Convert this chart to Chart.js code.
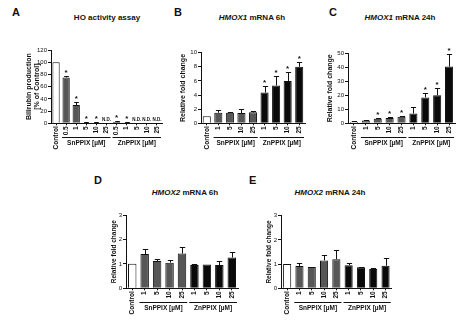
<!DOCTYPE html>
<html>
<head>
<meta charset="utf-8">
<script src="https://cdn.jsdelivr.net/npm/chart.js@4.4.1/dist/chart.umd.min.js"></script>
<style>
html, body { margin: 0; padding: 0; background: #fff; }
#fig { position: relative; width: 468px; height: 321px; overflow: hidden; font-family: "Liberation Sans", Arial, sans-serif; color: #111; }
#fig canvas { position: absolute; left: 0; top: 0; }
.lbl { position: absolute; font-weight: bold; font-size: 11px; line-height: 12px; }
.ttl { position: absolute; font-weight: bold; font-size: 8px; line-height: 10px; white-space: nowrap; transform: translateX(-50%); }
</style>
</head>
<body>
<div id="fig">
  <div class="lbl" style="left:12px;top:6px">A</div>
  <div class="ttl" style="left:107px;top:13px">HO activity assay</div>
  <div class="lbl" style="left:174px;top:6px">B</div>
  <div class="ttl" style="left:252px;top:13px"><i>HMOX1</i> mRNA 6h</div>
  <div class="lbl" style="left:329px;top:6px">C</div>
  <div class="ttl" style="left:400px;top:13px"><i>HMOX1</i> mRNA 24h</div>
  <div class="lbl" style="left:94px;top:174px">D</div>
  <div class="ttl" style="left:185px;top:188px"><i>HMOX2</i> mRNA 6h</div>
  <div class="lbl" style="left:249px;top:174px">E</div>
  <div class="ttl" style="left:330px;top:188px"><i>HMOX2</i> mRNA 24h</div>
  <canvas id="cA" width="468" height="321"></canvas>
  <canvas id="cB" width="468" height="321"></canvas>
  <canvas id="cC" width="468" height="321"></canvas>
  <canvas id="cD" width="468" height="321"></canvas>
  <canvas id="cE" width="468" height="321"></canvas>
</div>
<script>
// HO activity (bilirubin, % of control)
var aLabels = ['Control', '0.5', '1', '5', '10', '25', '0.5', '1', '5', '10', '25'];
var aValues = [100, 75, 30, 1, 1, 0, 2, 1.5, 0, 0, 0];
var aErrors = [0, 2, 5, 0.5, 0.5, 0, 2.5, 1, 0, 0, 0];
var aMarks = ['', '*', '*', '*', '*', 'N.D.', '*', '*', 'N.D.', 'N.D.', 'N.D.'];
var aGroups = [[1, 5], [6, 10]];

// HMOX1 / HMOX2 mRNA, relative fold change
var mLabels = ['Control', '1', '5', '10', '25', '1', '5', '10', '25'];
var mGroups = [[1, 4], [5, 8]];

var bValues = [1, 1.5, 1.5, 1.45, 1.55, 4.35, 5.35, 6.0, 8.0];
var bErrors = [0, 0.45, 0.1, 0.55, 0.2, 0.9, 1.3, 1.3, 0.7];
var bMarks = ['', '', '', '', '', '*', '*', '*', '*'];

var cValues = [1, 2, 3.3, 3.8, 4.7, 7, 18.5, 20, 40.5];
var cErrors = [0.3, 0.3, 0.6, 0.9, 0.7, 4.5, 2.8, 5, 9];
var cMarks = ['', '', '*', '*', '*', '', '*', '*', '*'];

var dValues = [1, 1.4, 1.12, 1.05, 1.42, 0.95, 0.97, 0.95, 1.26];
var dErrors = [0, 0.2, 0.07, 0.1, 0.27, 0.05, 0, 0.15, 0.22];

var eValues = [1, 0.92, 0.88, 1.15, 1.2, 0.95, 0.87, 0.8, 0.93];
var eErrors = [0, 0.12, 0.02, 0.22, 0.38, 0.1, 0.02, 0.05, 0.32];

var groupNames = ['SnPPIX [µM]', 'ZnPPIX [µM]'];

var FONT = '"Liberation Sans", Arial, sans-serif';
var X_HEIGHT = 32;
Chart.defaults.font.family = FONT;

// error bars, asterisks / N.D. and the dose brackets under the x axis
var panelMarks = {
  id: 'panelMarks',
  afterDatasetsDraw: function (chart, args, opts) {
    var ctx = chart.ctx, xs = chart.scales.x, ys = chart.scales.y;
    var vals = chart.data.datasets[0].data;
    ctx.save();
    chart.getDatasetMeta(0).data.forEach(function (bar, i) {
      var v = vals[i], e = opts.errors[i], x = Math.round(bar.x) + 0.5;
      var top = ys.getPixelForValue(v + e);
      if (e > 0) {
        var cap = bar.width * 0.32;
        ctx.strokeStyle = '#111';
        ctx.lineWidth = 1;
        ctx.beginPath();
        ctx.moveTo(x, ys.getPixelForValue(v));
        ctx.lineTo(x, Math.round(top) + 0.5);
        ctx.moveTo(x - cap, Math.round(top) + 0.5);
        ctx.lineTo(x + cap, Math.round(top) + 0.5);
        ctx.stroke();
      }
      var m = opts.marks ? opts.marks[i] : '';
      ctx.fillStyle = '#111';
      ctx.textAlign = 'center';
      if (m === '*') {
        ctx.font = 'bold 8px ' + FONT;
        ctx.textBaseline = 'alphabetic';
        ctx.fillText('*', bar.x, top - 1);
      } else if (m === 'N.D.') {
        ctx.font = 'bold 4.5px ' + FONT;
        ctx.textBaseline = 'middle';
        ctx.fillText(m, bar.x, ys.bottom - 4);
      }
    });
    var slot = (xs.right - xs.left) / chart.data.labels.length;
    var y = Math.round(ys.bottom + 14) + 0.5;
    opts.groups.forEach(function (g, k) {
      var x0 = xs.getPixelForValue(g[0]) - slot / 2 + 1;
      var x1 = xs.getPixelForValue(g[1]) + slot / 2 - 1;
      ctx.strokeStyle = '#111';
      ctx.lineWidth = 1;
      ctx.beginPath();
      ctx.moveTo(x0, y);
      ctx.lineTo(x1, y);
      ctx.stroke();
      ctx.font = 'bold 6.5px ' + FONT;
      ctx.textAlign = 'center';
      ctx.textBaseline = 'middle';
      ctx.fillText(groupNames[k], (x0 + x1) / 2, y + 6);
    });
    ctx.restore();
  }
};

function drawPanel(id, labels, values, errors, marks, groups, yMax, yStep, yTitle, box) {
  var lh = box.titleSize * 1.15;
  var padLeft = box.titleX - lh / 2;
  var colors = labels.map(function (l, i) {
    if (i === 0) return '#ffffff';
    return i <= groups[0][1] ? '#575757' : '#0a0a0a';
  });
  new Chart(document.getElementById(id), {
    type: 'bar',
    data: {
      labels: labels,
      datasets: [{
        data: values,
        backgroundColor: colors,
        borderColor: '#111',
        borderWidth: 1,
        barPercentage: box.barPct,
        categoryPercentage: 1
      }]
    },
    options: {
      responsive: false,
      animation: false,
      devicePixelRatio: 1,
      layout: { padding: { left: padLeft, top: box.top, right: 468 - box.right, bottom: 321 - box.bottom - X_HEIGHT } },
      plugins: {
        legend: { display: false },
        tooltip: { enabled: false },
        panelMarks: { errors: errors, marks: marks, groups: groups }
      },
      scales: {
        x: {
          offset: true,
          grid: { drawOnChartArea: false, offset: false, tickLength: 2, color: '#111' },
          border: { color: '#111', width: 1 },
          ticks: {
            autoSkip: false, maxRotation: 90, minRotation: 90, padding: 1, color: '#111',
            font: { size: 6.5, weight: 'bold' }
          },
          afterFit: function (s) { s.height = X_HEIGHT; }
        },
        y: {
          min: 0,
          max: yMax,
          grid: { drawOnChartArea: false, tickLength: 3, color: '#111' },
          border: { color: '#111', width: 1 },
          ticks: { stepSize: yStep, padding: 1, color: '#111', font: { size: 6 } },
          title: {
            display: true, text: yTitle, color: '#111', padding: 0,
            font: { size: box.titleSize, weight: 'bold', lineHeight: 1.15 }
          },
          afterFit: function (s) { s.width = box.axisX - padLeft; }
        }
      }
    },
    plugins: [panelMarks]
  });
}

drawPanel('cA', aLabels, aValues, aErrors, aMarks, aGroups, 120, 20,
  ['Bilirubin production', '[% of Control]'],
  { titleX: 29, titleSize: 7, axisX: 51, right: 162, top: 50, bottom: 123.3, barPct: 0.72 });
drawPanel('cB', mLabels, bValues, bErrors, bMarks, mGroups, 10, 2, 'Relative fold change',
  { titleX: 183, titleSize: 7, axisX: 201, right: 305, top: 52.7, bottom: 123.3, barPct: 0.7 });
drawPanel('cC', mLabels, cValues, cErrors, cMarks, mGroups, 50, 10, 'Relative fold change',
  { titleX: 330, titleSize: 7, axisX: 348, right: 455, top: 53.3, bottom: 123.3, barPct: 0.68 });
drawPanel('cD', mLabels, dValues, dErrors, null, mGroups, 3, 1, 'Relative fold change',
  { titleX: 114, titleSize: 6.5, axisX: 126, right: 238, top: 215, bottom: 288.3, barPct: 0.68 });
drawPanel('cE', mLabels, eValues, eErrors, null, mGroups, 3, 1, 'Relative fold change',
  { titleX: 269, titleSize: 6.5, axisX: 281, right: 391.7, top: 215.7, bottom: 288.3, barPct: 0.66 });
</script>
</body>
</html>
